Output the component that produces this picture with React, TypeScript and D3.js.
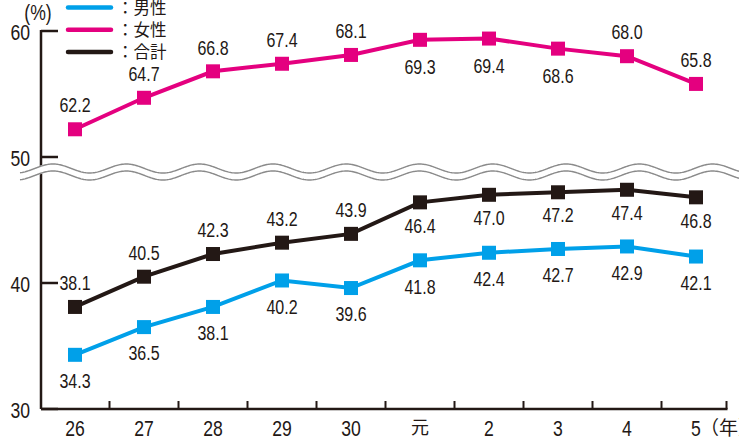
import React from "react";
import * as d3 from "d3";

const categories = ["26", "27", "28", "29", "30", "元", "2", "3", "4", "5"];
const male = [34.3, 36.5, 38.1, 40.2, 39.6, 41.8, 42.4, 42.7, 42.9, 42.1];
const female = [62.2, 64.7, 66.8, 67.4, 68.1, 69.3, 69.4, 68.6, 68.0, 65.8];
const total = [38.1, 40.5, 42.3, 43.2, 43.9, 46.4, 47.0, 47.2, 47.4, 46.8];
const femaleLabelSide = ["above", "above", "above", "above", "above", "below", "below", "below", "above", "above"];
const totalLabelSide = ["above", "above", "above", "above", "above", "below", "below", "below", "below", "below"];
const yTickValues = [30, 40, 50, 60];
const yTickLabels = ["30", "40", "50", "60"];
const legendNames = ["：男性", "：女性", "：合計"];

const W = 739;
const H = 443;
const BLUE = "#00a0e9";
const MAGENTA = "#e4007f";
const BLACK = "#231815";
const NUM_FONT = "'Liberation Sans', Arial, sans-serif";
const CJK_FONT = "'Noto Sans CJK JP', sans-serif";

function NumText(props: { x: number; y: number; size: number; anchor?: string; children: React.ReactNode }) {
  const { x, y, size, anchor = "middle", children } = props;
  return (
    <text
      transform={`translate(${x},${y}) scale(0.8,1)`}
      dy="0.36em"
      textAnchor={anchor}
      fontFamily={NUM_FONT}
      fontSize={size}
      fill={BLACK}
    >
      {children}
    </text>
  );
}

export default function App() {
  const x = d3.scaleBand<string>().domain(categories).range([40.5, 730.5]).padding(0);
  const cx = (c: string) => (x(c) as number) + x.bandwidth() / 2;
  const y = d3.scaleLinear().domain([30, 60]).range([409, 31]);
  const yUpper = d3.scaleLinear().domain([60, 70]).range([y(50), y(60)]);

  const line = d3.line<[number, number]>().x((d) => d[0]).y((d) => d[1]);

  const maleP: [number, number][] = male.map((v, i) => [cx(categories[i]), y(v)]);
  const femaleP: [number, number][] = female.map((v, i) => [cx(categories[i]), yUpper(v)]);
  const totalP: [number, number][] = total.map((v, i) => [cx(categories[i]), y(v)]);

  const period = 73.3;
  const phase = 53;
  const wave = (yc: number) => {
    const pts: [number, number][] = [];
    for (let px = 20; px <= W; px += 1) {
      pts.push([px, yc - 4.5 * Math.cos((2 * Math.PI * (px - phase)) / period)]);
    }
    return line(pts) as string;
  };

  const sq = 14;
  const marker = (p: [number, number], color: string, key: string) => (
    <rect key={key} x={p[0] - sq / 2} y={p[1] - sq / 2} width={sq} height={sq} fill={color} />
  );

  const tickBoundaries = categories.map((c) => (x(c) as number) + x.bandwidth());
  const axisX = 41;
  const axisBottom = y(30);
  const lastTick = tickBoundaries[tickBoundaries.length - 1] - 4;

  return (
    <svg width={W} height={H} style={{ position: "absolute", left: 0, top: 0, background: "#fff" }}>
      {/* axes */}
      <line x1={axisX} x2={axisX} y1={y(60) - 1} y2={axisBottom} stroke={BLACK} strokeWidth={2.5} />
      <line x1={axisX} x2={lastTick + 1} y1={axisBottom} y2={axisBottom} stroke={BLACK} strokeWidth={2.5} />
      {yTickValues.map((v, i) => (
        <g key={"yt" + i}>
          <line x1={axisX} x2={axisX + 17} y1={y(v)} y2={y(v)} stroke={BLACK} strokeWidth={2.5} />
          <NumText x={30} y={y(v) + 1} size={22} anchor="end">
            {yTickLabels[i]}
          </NumText>
        </g>
      ))}
      {tickBoundaries.map((b, i) => {
        const bx = i === tickBoundaries.length - 1 ? lastTick : b;
        return <line key={"xt" + i} x1={bx} x2={bx} y1={axisBottom} y2={axisBottom - 8} stroke={BLACK} strokeWidth={2} />;
      })}
      {categories.map((c, i) =>
        c === "元" ? (
          <text key={"xl" + i} x={cx(c)} y={428} dy="0.36em" textAnchor="middle" fontFamily={CJK_FONT} fontSize={18} fill={BLACK}>
            {c}
          </text>
        ) : (
          <NumText key={"xl" + i} x={cx(c)} y={428} size={22}>
            {c}
          </NumText>
        )
      )}
      <text x={700} y={428} dy="0.36em" fontFamily={CJK_FONT} fontSize={19} fill={BLACK}>（年）</text>
      <NumText x={38} y={12} size={22}>(%)</NumText>

      {/* wave break */}
      <path d={wave(172)} fill="none" stroke="#fff" strokeWidth={8} />
      <path d={wave(168.5)} fill="none" stroke="#8a8a8a" strokeWidth={1.4} />
      <path d={wave(175.5)} fill="none" stroke="#8a8a8a" strokeWidth={1.4} />

      {/* legend */}
      {[BLUE, MAGENTA, BLACK].map((col, i) => (
        <g key={"lg" + i}>
          <line x1={68} x2={111} y1={7.5 + i * 22.2} y2={7.5 + i * 22.2} stroke={col} strokeWidth={4.5} strokeLinecap="round" />
          <text x={117} y={8 + i * 22.2} dy="0.36em" fontFamily={CJK_FONT} fontSize={16.5} fill={BLACK}>
            {legendNames[i]}
          </text>
        </g>
      ))}

      {/* series */}
      <path d={line(maleP) as string} fill="none" stroke={BLUE} strokeWidth={4} />
      <path d={line(femaleP) as string} fill="none" stroke={MAGENTA} strokeWidth={4} />
      <path d={line(totalP) as string} fill="none" stroke={BLACK} strokeWidth={4} />
      {maleP.map((p, i) => marker(p, BLUE, "mm" + i))}
      {femaleP.map((p, i) => marker(p, MAGENTA, "fm" + i))}
      {totalP.map((p, i) => marker(p, BLACK, "tm" + i))}

      {/* labels */}
      {maleP.map((p, i) => (
        <NumText key={"ml" + i} x={p[0]} y={p[1] + 26} size={20}>
          {male[i].toFixed(1)}
        </NumText>
      ))}
      {totalP.map((p, i) => (
        <NumText key={"tl" + i} x={p[0]} y={totalLabelSide[i] === "above" ? p[1] - 24 : p[1] + 23} size={20}>
          {total[i].toFixed(1)}
        </NumText>
      ))}
      {femaleP.map((p, i) => (
        <NumText key={"fl" + i} x={p[0]} y={femaleLabelSide[i] === "above" ? p[1] - 24 : p[1] + 27} size={20}>
          {female[i].toFixed(1)}
        </NumText>
      ))}
    </svg>
  );
}
